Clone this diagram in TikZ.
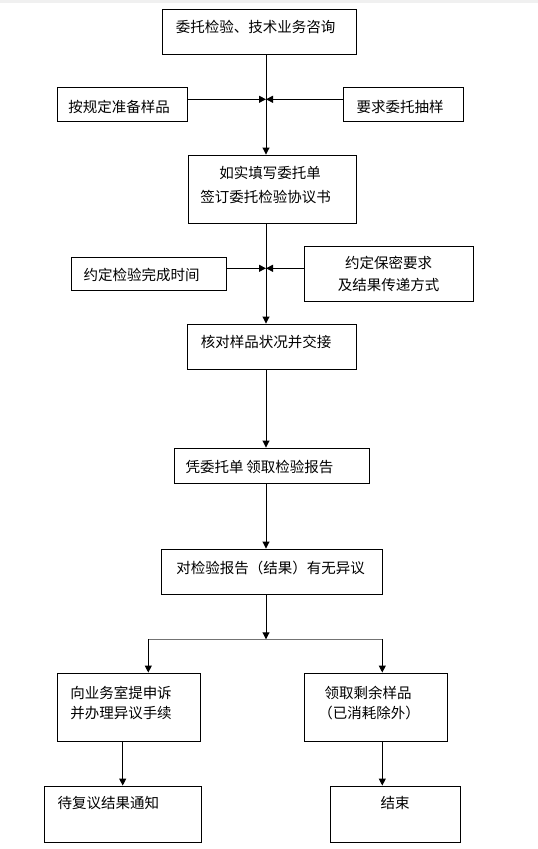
\documentclass[tikz,border=0pt]{standalone}
\usepackage{fontspec}
\newfontfamily\cjk{Noto Sans CJK SC}
\usetikzlibrary{arrows.meta}
\tikzset{
  box/.style={draw=black, line width=0.9pt, rectangle, inner sep=0pt, fill=white},
  lbl/.style={font=\cjk\fontsize{14.5}{17}\selectfont, inner sep=0pt, anchor=center},
  arr/.style={line width=0.9pt, -{Triangle[length=7pt,width=7pt]}},
  ln/.style={line width=0.9pt},
}
\begin{document}
\begin{tikzpicture}[x=1pt,y=-1pt]
\useasboundingbox (0,0) rectangle (538,849);
\fill[black!6] (0,0) rectangle (538,2.5);
% boxes
\node[box, minimum width=194pt, minimum height=45pt] (b1) at (259,31.5) {};
\node[box, minimum width=130pt, minimum height=34pt] (b2a) at (122,104) {};
\node[box, minimum width=120pt, minimum height=34pt] (b2b) at (403,104) {};
\node[box, minimum width=168pt, minimum height=68pt] (b3) at (272,189) {};
\node[box, minimum width=155pt, minimum height=33pt] (b4a) at (148.5,273.5) {};
\node[box, minimum width=169pt, minimum height=55pt] (b4b) at (388.8,273.5) {};
\node[box, minimum width=169pt, minimum height=45pt] (b5) at (271.5,346.5) {};
\node[box, minimum width=195pt, minimum height=35pt] (b6) at (271.5,465.5) {};
\node[box, minimum width=221pt, minimum height=45pt] (b7) at (271.5,571.5) {};
\node[box, minimum width=143pt, minimum height=68pt] (b8a) at (128.5,707) {};
\node[box, minimum width=143pt, minimum height=68pt] (b8b) at (375.5,707) {};
\node[box, minimum width=157pt, minimum height=56pt] (b9a) at (122.5,814) {};
\node[box, minimum width=130pt, minimum height=56pt] (b9b) at (395,814) {};
% texts
\node[lbl] (t1) at (255.5,27) {委托检验、技术业务咨询};
\node[lbl] (t2a) at (119,106.5) {按规定准备样品};
\node[lbl] (t2b) at (400,106.5) {要求委托抽样};
\node[lbl] (t3a) at (270,173.3) {如实填写委托单};
\node[lbl] (t3b) at (265.7,196.7) {签订委托检验协议书};
\node[lbl] (t4a) at (141.7,275) {约定检验完成时间};
\node[lbl] (t4b1) at (388.5,263.3) {约定保密要求};
\node[lbl] (t4b2) at (388.5,285) {及结果传递方式};
\node[lbl] (t5) at (266,341.7) {核对样品状况并交接};
\node[lbl] (t6) at (259.5,466.7) {凭委托单\hspace{3pt}领取检验报告};
\node[lbl] (t7) at (270.5,568.3) {对检验报告（结果）有无异议};
\node[lbl] (t8a1) at (121,693.3) {向业务室提申诉};
\node[lbl] (t8a2) at (121,713.3) {并办理异议手续};
\node[lbl] (t8b1) at (368,693) {领取剩余样品};
\node[lbl] (t8b2) at (369,713) {（已消耗除外）};
\node[lbl] (t9a) at (108.3,803.3) {待复议结果通知};
\node[lbl] (t9b) at (395,803) {结束};
% spine and junctions
\coordinate (sp) at (266,0);
\coordinate (j1) at (266,99.3);
\coordinate (j2) at (266,268.3);
\coordinate (j3) at (266,639.3);
\coordinate (jl) at (148.3,639.3);
\coordinate (jr) at (382.3,639.3);
\coordinate (cl) at (122.7,0);
% connectors
\draw[arr] (sp |- b1.south) -- (sp |- b3.north);
\draw[arr] (b2a.east |- j1) -- (j1);
\draw[arr] (b2b.west |- j1) -- (j1);
\draw[arr] (sp |- b3.south) -- (sp |- b5.north);
\draw[arr] (b4a.east |- j2) -- (j2);
\draw[arr] (b4b.west |- j2) -- (j2);
\draw[arr] (sp |- b5.south) -- (sp |- b6.north);
\draw[arr] (sp |- b6.south) -- (sp |- b7.north);
\draw[arr] (sp |- b7.south) -- (j3);
\draw[ln, black!55] (jl) -- (jr);
\draw[arr] (jl) -- (jl |- b8a.north);
\draw[arr] (jr) -- (jr |- b8b.north);
\draw[arr] (cl |- b8a.south) -- (cl |- b9a.north);
\draw[arr] (jr |- b8b.south) -- (jr |- b9b.north);
\end{tikzpicture}
\end{document}
